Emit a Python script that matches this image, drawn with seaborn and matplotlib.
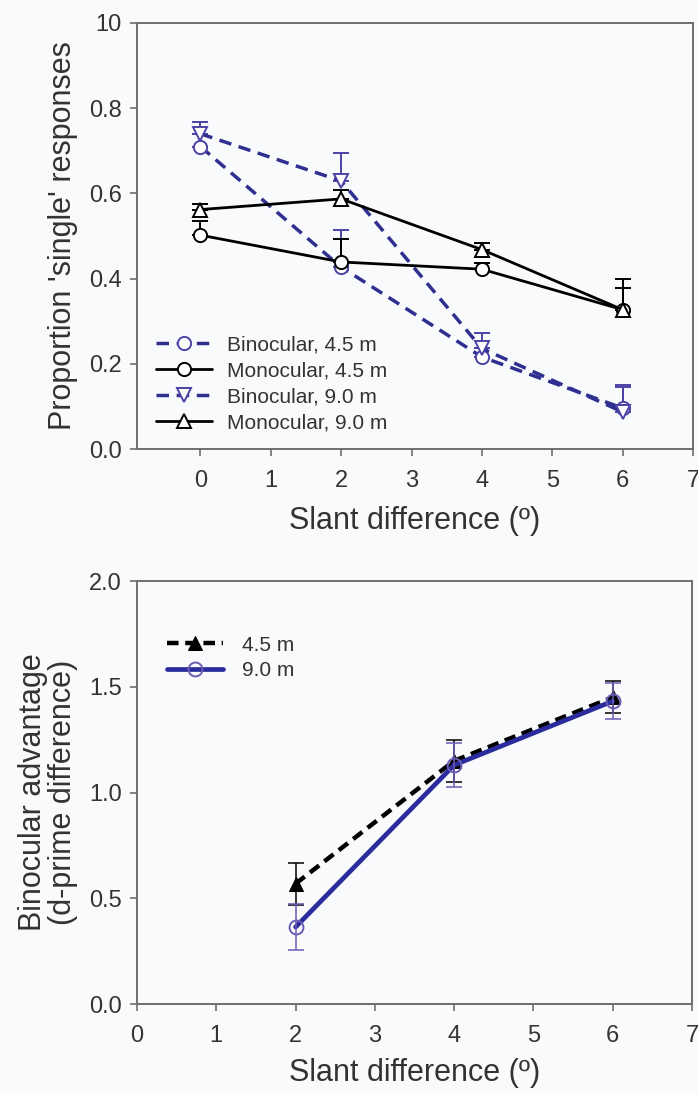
import matplotlib
matplotlib.use("Agg")
import matplotlib.pyplot as plt
import seaborn as sns
import numpy as np

# top panel: proportion of 'single' responses
slant_top = [0, 2, 4, 6]
bino_45 = [0.71, 0.427, 0.216, 0.096]
bino_45_err = [0.0, 0.086, 0.02, 0.05]
mono_45 = [0.502, 0.439, 0.422, 0.327]
mono_45_err = [0.034, 0.055, 0.015, 0.05]
bino_90 = [0.74, 0.629, 0.236, 0.087]
bino_90_err = [0.027, 0.065, 0.037, 0.063]
mono_90 = [0.562, 0.587, 0.468, 0.327]
mono_90_err = [0.012, 0.02, 0.015, 0.071]
top_labels = ["Binocular, 4.5 m", "Monocular, 4.5 m", "Binocular, 9.0 m", "Monocular, 9.0 m"]
top_yticks = [0.0, 0.2, 0.4, 0.6, 0.8, 1.0]
top_yticklabels = ["0.0", "0.2", "0.4", "0.6", "0.8", "10"]

# bottom panel: binocular advantage
slant_bot = [2, 4, 6]
adv_45 = [0.569, 1.15, 1.45]
adv_45_err = [0.10, 0.10, 0.075]
adv_90 = [0.364, 1.13, 1.432]
adv_90_err = [0.108, 0.105, 0.085]
bot_labels = ["4.5 m", "9.0 m"]
bot_yticks = [0.0, 0.5, 1.0, 1.5, 2.0]

sns.set_style("ticks")
plt.rcParams['font.family'] = ['Liberation Sans', 'DejaVu Sans']

BLUE = '#2e2f8f'
BLUE_MK = '#4c42a6'
BLUE_EB = '#6a5db3'
TXT = '#333333'
SPINE = '#6e6e6e'
BG = '#f9fafc'

fig = plt.figure(figsize=(6.98, 10.93), dpi=100, facecolor=BG)
ax1 = fig.add_axes([0.1963, 0.5892, 0.7966, 0.3898], facecolor=BG)
ax2 = fig.add_axes([0.1963, 0.0814, 0.7950, 0.3870], facecolor=BG)

# ---- top panel ----
series = [
    (bino_45, bino_45_err, BLUE, BLUE_MK, 'o', '--'),
    (mono_45, mono_45_err, 'black', 'black', 'o', '-'),
    (bino_90, bino_90_err, BLUE, BLUE_MK, 'v', '--'),
    (mono_90, mono_90_err, 'black', 'black', '^', '-'),
]
handles = []
for (vals, err, col, mcol, mk, ls), lab in zip(series, top_labels):
    ax1.errorbar(slant_top, vals, yerr=[np.zeros(len(err)), err], fmt='none',
                 ecolor=mcol, elinewidth=1.4, capsize=6, capthick=1.4, zorder=1.5)
    sns.lineplot(x=slant_top, y=vals, ax=ax1, color=col, linestyle=ls,
                 linewidth=2.5 if ls == '--' else 2.0, marker=mk, markersize=9.5,
                 markerfacecolor='white', markeredgecolor=mcol, markeredgewidth=1.4,
                 zorder=2)
    line = ax1.lines[-1]
    if ls == '--':
        line.set_dashes((3.6, 2.2))
    handles.append(line)

leg = ax1.legend(handles, top_labels, loc='lower left', bbox_to_anchor=(0.0, -0.005),
                 frameon=False, fontsize=15, handlelength=2.7, handletextpad=0.7,
                 labelspacing=0.33, borderaxespad=0.5)
for t in leg.get_texts():
    t.set_color(TXT)

ax1.set_xlim(-0.9, 7)
ax1.set_ylim(0, 1.0)
ax1.set_xticks(range(0, 8))
ax1.set_yticks(top_yticks)
ax1.set_yticklabels(top_yticklabels)
ax1.set_xlabel("Slant difference (º)", fontsize=22, color=TXT, labelpad=10)
ax1.set_ylabel("Proportion 'single' responses", fontsize=22, color=TXT, labelpad=8)

# ---- bottom panel ----
ax2.errorbar(slant_bot, adv_45, yerr=adv_45_err, fmt='none', ecolor='black',
             elinewidth=1.1, capsize=6, capthick=1.1, zorder=1.5)
sns.lineplot(x=slant_bot, y=adv_45, ax=ax2, color='black', linestyle='--', linewidth=3.2,
             marker='^', markersize=9.5, markerfacecolor='black', markeredgecolor='black', zorder=2)
h45 = ax2.lines[-1]
h45.set_dashes((2.6, 1.5))
sns.lineplot(x=slant_bot, y=adv_90, ax=ax2, color='#2b2c9c', linestyle='-', linewidth=3.4,
             marker='o', markersize=10, markerfacecolor='none', markeredgecolor=BLUE_EB,
             markeredgewidth=1.4, zorder=2.2)
h90 = ax2.lines[-1]
ax2.errorbar(slant_bot, adv_90, yerr=adv_90_err, fmt='none', ecolor=BLUE_EB,
             elinewidth=1.1, capsize=6, capthick=1.1, zorder=2.5)

leg2 = ax2.legend([h45, h90], bot_labels, loc='upper left', bbox_to_anchor=(0.02, 0.915),
                  frameon=False, fontsize=15, handlelength=2.7, handletextpad=0.9,
                  labelspacing=0.3)
for t in leg2.get_texts():
    t.set_color(TXT)

ax2.set_xlim(0, 7)
ax2.set_ylim(0, 2.0)
ax2.set_xticks(range(0, 8))
ax2.set_yticks(bot_yticks)
ax2.set_xlabel("Slant difference (º)", fontsize=22, color=TXT, labelpad=8)
ax2.set_ylabel("Binocular advantage\n(d-prime difference)", fontsize=22, color=TXT,
               labelpad=8, linespacing=1.0)

for ax in (ax1, ax2):
    for s in ax.spines.values():
        s.set_color(SPINE)
        s.set_linewidth(1.4)
    ax.tick_params(axis='both', direction='out', length=5, width=1.2, color=SPINE,
                   labelsize=17, labelcolor=TXT, top=False, right=False)
    ax.tick_params(axis='y', pad=6)
    ax.tick_params(axis='x', pad=10)

fig.savefig("out.png", dpi=100, facecolor=BG)
